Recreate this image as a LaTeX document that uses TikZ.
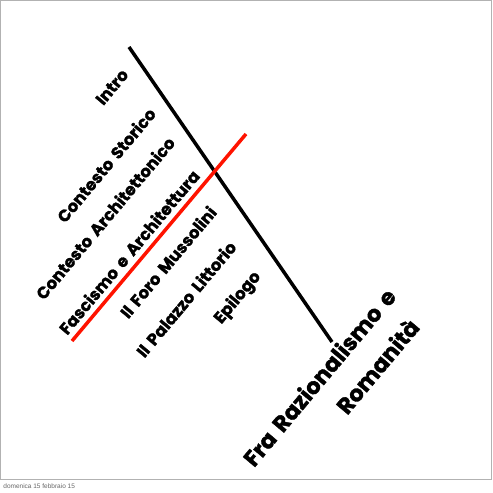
\documentclass[tikz,border=0pt]{standalone}
\usepackage{fontspec}
\setmainfont{Liberation Sans}
\newfontfamily\slidefont{Poppins}[WordSpace=1.6, BoldFeatures={FakeBold=1.5}]
\begin{document}
\begin{tikzpicture}[x=1pt, y=1pt, thick,
    item/.style = {rotate=50, inner sep=0pt, font=\slidefont\bfseries\fontsize{16.5}{16.5}\selectfont},
    head/.style = {rotate=50, inner sep=0pt, font=\slidefont\bfseries\fontsize{22.5}{22.5}\selectfont},
    bar/.style = {line width=3.5pt}]
      \useasboundingbox (0,0) rectangle (493,493);
      \draw[gray!60, line width=1pt] (0.8,13) rectangle (491,492.5);
      % the two bars
      \coordinate (bstart) at (129,446);
      \coordinate (bend) at (332,151);
      \coordinate (rstart) at (246,359);
      \coordinate (rend) at (72,152);
      \draw[bar] (bstart) -- (bend);
      \draw[bar, red!85!orange] (rstart) -- (rend);
      % chapters
      \node[item] (intro) at (112,406) {Intro};
      \node[item] (storico) at (106,328) {Contesto Storico};
      \node[item] (archi) at (105,275) {Contesto Architettonico};
      \node[item] (fascismo) at (129,241) {Fascismo e Architettura};
      \node[item] (foro) at (168,231) {Il Foro Mussolini};
      \node[item] (palazzo) at (186,194) {Il Palazzo Littorio};
      \node[item] (epilogo) at (238,195) {Epilogo};
      \node[head] (titolo) at (319,116) {Fra Razionalismo e};
      \node[head] (romanita) at (377,127) {Romanità};
      \node[anchor=west, inner sep=0pt, font=\fontsize{6.5}{7}\selectfont, gray!80!black] (data) at (3,7) {domenica 15 febbraio 15};
  \end{tikzpicture}
\end{document}
